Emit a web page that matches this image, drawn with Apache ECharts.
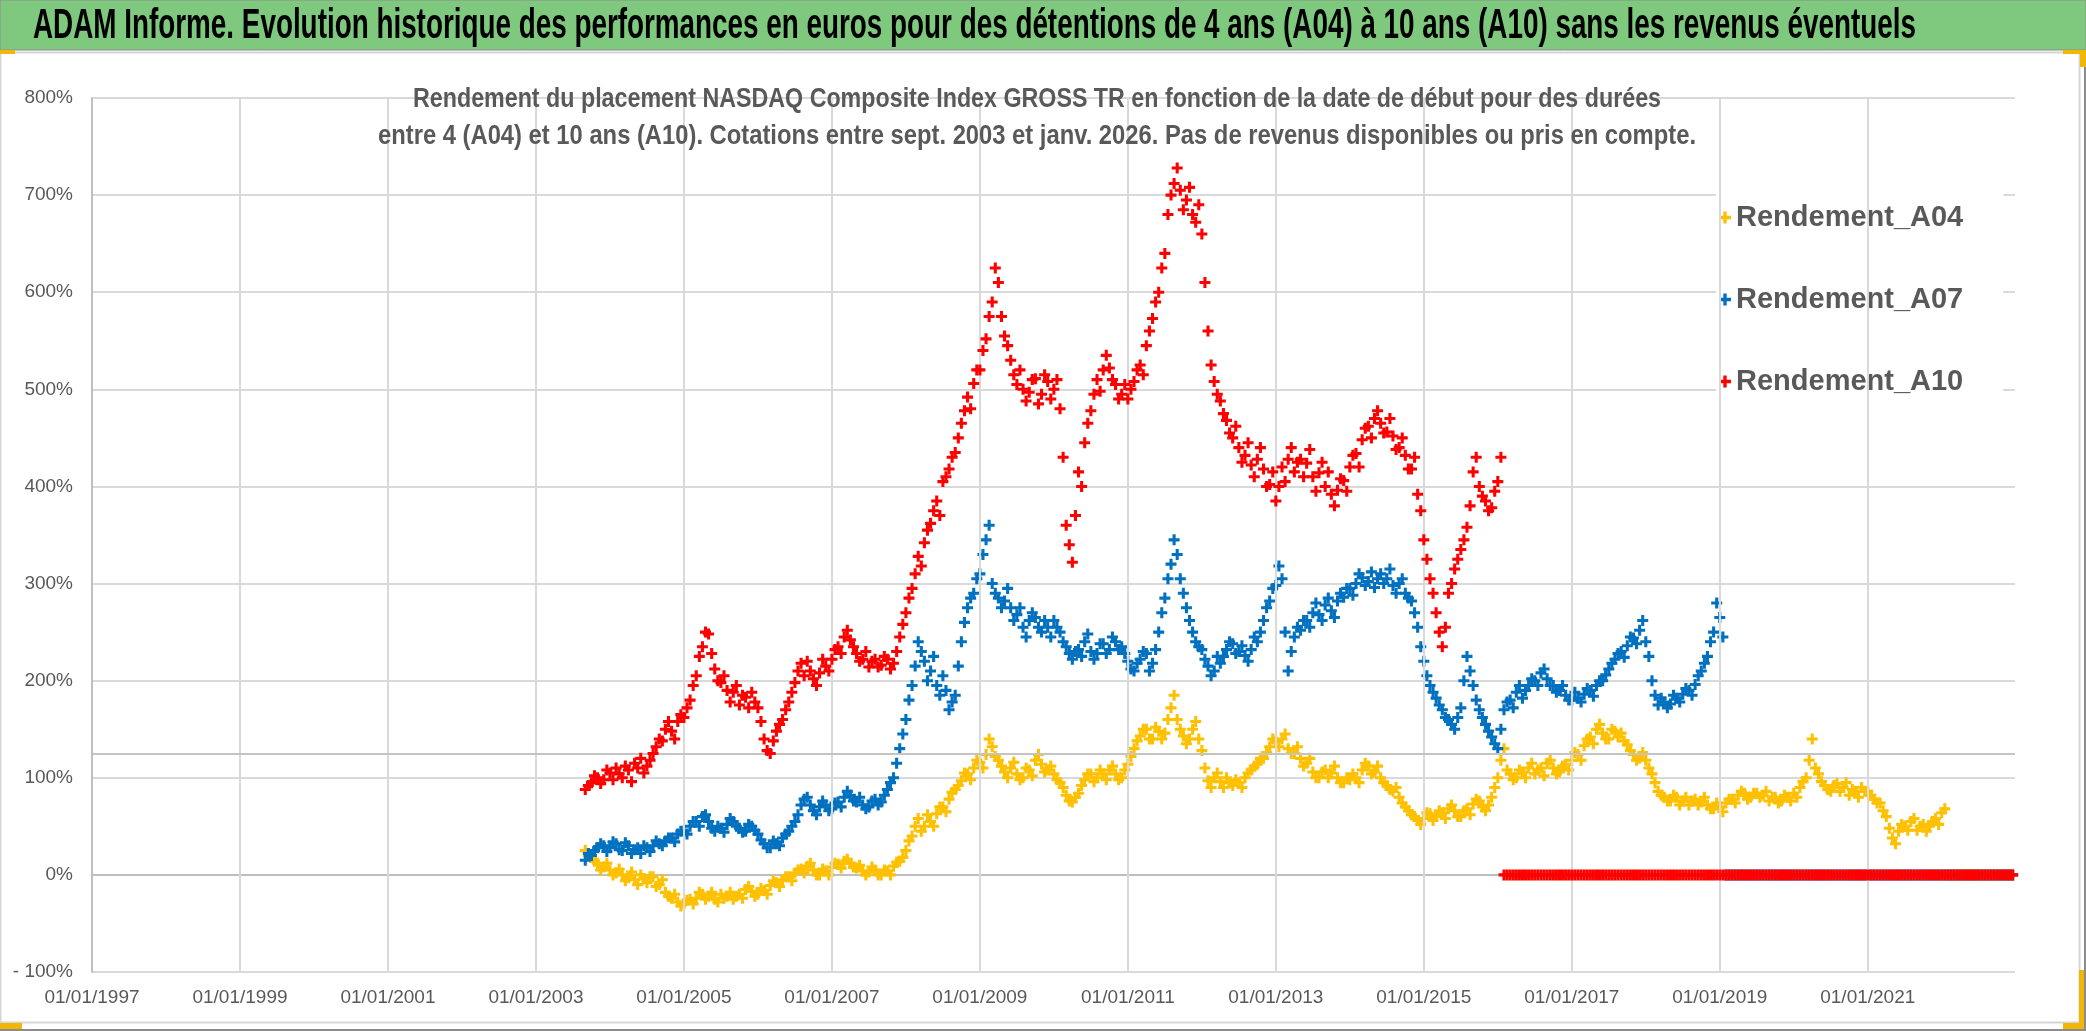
<!DOCTYPE html>
<html><head><meta charset="utf-8">
<script src="https://cdn.jsdelivr.net/npm/echarts@6/dist/echarts.min.js"></script>
<style>html,body{margin:0;padding:0;background:#fff}#c{width:2086px;height:1031px}</style>
</head><body><div id="c"></div>
<script>
const mainTitle = "ADAM Informe. Evolution historique des performances en euros pour des détentions de 4 ans (A04) à 10 ans (A10) sans les revenus éventuels";
const subTitle1 = "Rendement du placement NASDAQ Composite Index GROSS TR en fonction de la date de début pour des durées";
const subTitle2 = "entre 4 (A04) et 10 ans (A10). Cotations entre sept. 2003 et janv. 2026. Pas de revenus disponibles ou pris en compte.";
const seriesNames = ['Rendement_A04', 'Rendement_A07', 'Rendement_A10'];
const seriesColors = ['#FFC000', '#0070C0', '#FF0000'];
// start dates: first = sept. 2003, one reading at the start and one at mid-month
const firstYear = 2003, firstMonth = 9;
// x axis: 01/01/1997 origin, labels every 2 years
const axisOrigin = 1997;
const xTickYears = [1997, 1999, 2001, 2003, 2005, 2007, 2009, 2011, 2013, 2015, 2017, 2019, 2021];
const xMaxYears = 25.99;
const yMin = -100, yMax = 800, yStep = 100;
const refLine = 125;

// Rendement (%) at the 1st of each month, sept. 2003 -> dec. 2022
const rendementA04 = [
  25, 18, 12, 8,
  5, 2, 0, -3, -5, 0, -8, -2, -10, -18, -24, -28,
  -30, -25, -24, -20, -22, -25, -20, -22, -25, -20, -15, -17,
  -20, -16, -11, -8, -5, -2, 2, 6, 9, 5, 0, 4,
  8, 11, 14, 12, 7, 4, 3, 5, 0, 4, 9, 14,
  25, 40, 58, 50, 55, 63, 70, 78, 88, 97, 104, 110,
  116, 124, 132, 118, 106, 110, 104, 100, 108, 118, 114, 108,
  104, 95, 82, 75, 84, 98, 104, 100, 104, 108, 104, 100,
  114, 130, 143, 150, 140, 148, 146, 172, 160, 143, 140, 158,
  128, 97, 100, 96, 100, 92, 95, 100, 108, 114, 120, 132,
  138, 140, 130, 125, 120, 115, 106, 100, 108, 105, 100, 95,
  98, 100, 108, 112, 106, 100, 92, 86, 80, 70, 62, 56,
  58, 63, 60, 64, 68, 66, 60, 68, 73, 76, 66, 80,
  100, 130, 104, 100, 106, 110, 104, 110, 115, 110, 106, 114,
  118, 124, 133, 142, 150, 146, 140, 148, 146, 134, 124, 120,
  118, 104, 86, 80, 76, 80, 76, 72, 78, 75, 72, 68,
  70, 74, 78, 82, 84, 80, 84, 82, 76, 80, 76, 80,
  84, 90, 100, 140, 104, 92, 86, 94, 90, 82, 86, 90,
  86, 78, 74, 60, 38, 45, 50, 55, 46, 52, 50, 58,
  64, 0, 0, 0, 0, 0, 0, 0, 0, 0, 0, 0
];
// Rendement (%) at mid-month
const rendementA04Mid = [
  20, 14, 5, 12,
  0, 6, -6, 3, -10, -4, -2, -12, -5, -22, -20, -32,
  -26, -30, -18, -25, -18, -28, -24, -18, -22, -24, -12, -22,
  -14, -20, -6, -12, -2, -6, 5, 2, 12, 0, 6, 0,
  12, 7, 16, 8, 10, 0, 8, 0, 5, 0, 13, 18,
  35, 50, 45, 62, 50, 70, 65, 85, 92, 105, 98, 118,
  110, 140, 122, 112, 100, 116, 98, 110, 102, 124, 106, 112,
  98, 90, 76, 80, 92, 104, 96, 108, 98, 112, 98, 108,
  122, 138, 150, 140, 152, 140, 160, 185, 150, 135, 150, 140,
  110, 90, 105, 90, 95, 98, 90, 105, 112, 120, 126, 140,
  132, 145, 125, 132, 112, 120, 100, 106, 100, 112, 95, 100,
  104, 95, 115, 104, 112, 95, 88, 90, 74, 66, 60, 52,
  64, 56, 66, 58, 72, 60, 66, 62, 78, 70, 72, 90,
  118, 108, 98, 108, 100, 115, 108, 102, 118, 104, 112, 108,
  126, 118, 140, 135, 155, 140, 150, 142, 138, 128, 118, 126,
  110, 95, 82, 76, 82, 72, 80, 76, 72, 80, 68, 74,
  65, 78, 74, 86, 78, 84, 80, 86, 80, 74, 82, 76,
  80, 96, 118, 110, 96, 88, 92, 86, 95, 88, 80, 86,
  82, 74, 66, 48, 32, 52, 46, 58, 50, 45, 55, 52,
  68, 0, 0, 0, 0, 0, 0, 0, 0, 0, 0, 0
];
const rendementA07 = [
  15, 20, 28, 30,
  28, 32, 25, 30, 26, 22, 28, 30, 32, 35, 38, 42,
  45, 50, 55, 60, 55, 45, 48, 52, 55, 48, 45, 50,
  42, 32, 28, 32, 38, 45, 55, 72, 80, 66, 70, 72,
  68, 75, 80, 82, 75, 72, 70, 78, 75, 88, 100, 130,
  160, 195, 240, 220, 210, 195, 205, 170, 185, 240, 275, 290,
  310, 345, 300, 285, 282, 275, 268, 255, 262, 265, 250, 255,
  262, 250, 235, 222, 232, 240, 230, 228, 238, 232, 240, 235,
  220, 210, 222, 228, 218, 250, 285, 320, 330, 290, 262, 240,
  232, 215, 210, 218, 232, 238, 230, 226, 232, 240, 262, 282,
  298, 305, 210, 245, 252, 262, 270, 268, 278, 272, 282, 286,
  295, 300, 306, 302, 296, 310, 305, 298, 300, 290, 282, 255,
  220, 195, 182, 170, 160, 150, 172, 225, 195, 170, 155, 142,
  130, 170, 180, 188, 182, 195, 200, 208, 202, 195, 190, 185,
  180, 182, 186, 190, 195, 200, 212, 222, 230, 236, 244, 252,
  240, 200, 175, 178, 176, 182, 186, 190, 196, 210, 225, 250,
  265, 0, 0, 0, 0, 0, 0, 0, 0, 0, 0, 0,
  0, 0, 0, 0, 0, 0, 0, 0, 0, 0, 0, 0,
  0, 0, 0, 0, 0, 0, 0, 0, 0, 0, 0, 0,
  0, 0, 0, 0, 0, 0, 0, 0, 0, 0, 0, 0
];
const rendementA07Mid = [
  22, 25, 32, 24,
  34, 26, 33, 22, 28, 30, 24, 35, 30, 38, 34, 45,
  42, 55, 50, 62, 48, 50, 44, 58, 50, 44, 52, 46,
  36, 28, 35, 30, 42, 50, 62, 78, 72, 62, 76, 66,
  74, 70, 86, 76, 80, 68, 76, 72, 82, 95, 115, 145,
  180, 215, 230, 200, 225, 185, 190, 178, 215, 260, 285, 305,
  330, 360, 290, 275, 295, 262, 275, 245, 270, 255, 262, 245,
  255, 240, 228, 230, 225, 248, 222, 238, 228, 245, 232, 228,
  212, 218, 230, 210, 232, 270, 305, 345, 305, 275, 250, 235,
  222, 205, 225, 225, 240, 228, 236, 220, 245, 250, 275, 295,
  318, 250, 230, 255, 262, 255, 280, 262, 285, 265, 290, 295,
  288, 310, 298, 312, 305, 300, 315, 290, 305, 285, 270, 235,
  205, 188, 175, 162, 155, 162, 200, 210, 180, 162, 148, 135,
  150, 178, 172, 195, 190, 202, 195, 212, 195, 188, 195, 180,
  188, 178, 192, 184, 200, 206, 218, 228, 224, 245, 238, 262,
  225, 185, 182, 172, 185, 178, 192, 185, 205, 218, 240, 280,
  245, 0, 0, 0, 0, 0, 0, 0, 0, 0, 0, 0,
  0, 0, 0, 0, 0, 0, 0, 0, 0, 0, 0, 0,
  0, 0, 0, 0, 0, 0, 0, 0, 0, 0, 0, 0,
  0, 0, 0, 0, 0, 0, 0, 0, 0, 0, 0, 0
];
const rendementA10 = [
  88, 95, 100, 98,
  105, 110, 100, 108, 115, 120, 112, 125, 140, 150, 148, 158,
  162, 180, 205, 235, 248, 212, 198, 190, 188, 175, 183, 188,
  172, 140, 125, 148, 160, 178, 198, 218, 220, 202, 208, 215,
  222, 235, 245, 242, 228, 222, 214, 222, 216, 222, 218, 245,
  270, 295, 328, 342, 362, 385, 405, 418, 435, 465, 492, 506,
  520, 552, 590, 610, 555, 530, 505, 500, 497, 511, 495, 508,
  500, 480, 360, 322, 415, 445, 478, 510, 520, 522, 505, 495,
  490, 508, 525, 545, 573, 600, 640, 700, 728, 685, 708, 672,
  660, 560, 508, 488, 468, 450, 440, 432, 422, 428, 418, 402,
  385, 420, 428, 415, 428, 424, 410, 414, 400, 392, 396, 406,
  420, 434, 448, 462, 470, 465, 456, 452, 440, 432, 418, 392,
  345, 305, 270, 235, 290, 315, 335, 358, 415, 400, 385, 378,
  405, 0, 0, 0, 0, 0, 0, 0, 0, 0, 0, 0,
  0, 0, 0, 0, 0, 0, 0, 0, 0, 0, 0, 0,
  0, 0, 0, 0, 0, 0, 0, 0, 0, 0, 0, 0,
  0, 0, 0, 0, 0, 0, 0, 0, 0, 0, 0, 0,
  0, 0, 0, 0, 0, 0, 0, 0, 0, 0, 0, 0,
  0, 0, 0, 0, 0, 0, 0, 0, 0, 0, 0, 0,
  0, 0, 0, 0, 0, 0, 0, 0, 0, 0, 0, 0
];
const rendementA10Mid = [
  92, 102, 94, 108,
  98, 104, 112, 96, 110, 105, 118, 132, 138, 158, 140, 165,
  172, 195, 225, 250, 228, 200, 205, 178, 195, 185, 172, 178,
  158, 128, 138, 155, 170, 188, 210, 205, 210, 195, 222, 210,
  232, 228, 252, 235, 220, 230, 220, 214, 225, 212, 230, 258,
  285, 310, 318, 355, 375, 370, 410, 430, 450, 478, 480, 520,
  540, 575, 625, 575, 545, 515, 520, 488, 510, 485, 515, 490,
  510, 430, 340, 370, 400, 465, 495, 498, 535, 510, 490, 505,
  500, 520, 515, 560, 590, 625, 680, 712, 705, 695, 680, 690,
  610, 525, 495, 475, 455, 462, 425, 445, 410, 440, 400, 415,
  400, 405, 440, 425, 410, 438, 395, 425, 415, 380, 408, 395,
  432, 420, 460, 450, 478, 455, 470, 438, 450, 418, 430, 375,
  325, 290, 250, 255, 300, 325, 345, 380, 430, 390, 375, 395,
  430, 0, 0, 0, 0, 0, 0, 0, 0, 0, 0, 0,
  0, 0, 0, 0, 0, 0, 0, 0, 0, 0, 0, 0,
  0, 0, 0, 0, 0, 0, 0, 0, 0, 0, 0, 0,
  0, 0, 0, 0, 0, 0, 0, 0, 0, 0, 0, 0,
  0, 0, 0, 0, 0, 0, 0, 0, 0, 0, 0, 0,
  0, 0, 0, 0, 0, 0, 0, 0, 0, 0, 0, 0,
  0, 0, 0, 0, 0, 0, 0, 0, 0, 0, 0, 0
];
const seriesValues = [rendementA04, rendementA07, rendementA10];
const seriesMidValues = [rendementA04Mid, rendementA07Mid, rendementA10Mid];

function toPoints(vals, dayOffset) {
  return vals.map((v, i) => [firstYear + (firstMonth - 1 + i + dayOffset) / 12 - axisOrigin, v]);
}
const plusPath = 'path://M3.6,0H6.4V3.6H10V6.4H6.4V10H3.6V6.4H0V3.6H3.6Z';
const FONT = '"Liberation Sans", Arial, sans-serif';

function fitScale(text, font, target) {
  const ctx = document.createElement('canvas').getContext('2d');
  ctx.font = font;
  return target / ctx.measureText(text).width;
}
const titleFont = 'bold 42px ' + FONT;
const subFont = 'bold 27px ' + FONT;
const sTitle = fitScale(mainTitle, titleFont, 1883);
const sSub1 = fitScale(subTitle1, subFont, 1248);
const sSub2 = fitScale(subTitle2, subFont, 1318);

const chart = echarts.init(document.getElementById('c'), null, {renderer: 'canvas'});
const handle = '#F2B705';
const gridColor = '#D9D9D9';

const dataSeries = seriesNames.map((name, k) => ({
  name, type: 'scatter', symbol: plusPath, symbolSize: 11,
  itemStyle: {color: seriesColors[k], opacity: 1},
  data: toPoints(seriesValues[k], 0).concat(toPoints(seriesMidValues[k], 0.5)),
  z: 3 + k
}));
// vertical gridlines + reference line, drawn beneath the points
const gridSeries = {
  name: 'grid', type: 'scatter', data: [], silent: true, z: 1,
  markLine: {
    silent: true, symbol: 'none', label: {show: false}, animation: false,
    data: xTickYears.slice(1).map(y => ({xAxis: y - axisOrigin, lineStyle: {color: gridColor, width: 2, type: 'solid'}}))
      .concat([{yAxis: refLine, lineStyle: {color: '#C4C4C4', width: 2, type: 'solid'}}])
  }
};

chart.setOption({
  animation: false,
  backgroundColor: '#fff',
  grid: {left: 92, right: 71, top: 98, bottom: 59, containLabel: false},
  xAxis: {
    type: 'value', min: 0, max: xMaxYears, interval: 2,
    axisLine: {show: true, lineStyle: {color: '#BFBFBF', width: 2}},
    axisTick: {show: false},
    splitLine: {show: false},
    axisLabel: {
      margin: 16, color: '#595959', fontSize: 19, fontFamily: FONT, showMaxLabel: false,
      formatter: v => (Math.abs(v - Math.round(v)) < 1e-6 && xTickYears.indexOf(axisOrigin + Math.round(v)) >= 0) ? '01/01/' + (axisOrigin + Math.round(v)) : ''
    }
  },
  yAxis: {
    type: 'value', min: yMin, max: yMax, interval: yStep,
    axisLine: {show: true, lineStyle: {color: '#BFBFBF', width: 2}},
    axisTick: {show: false},
    splitLine: {show: true, lineStyle: {color: gridColor, width: 2}},
    axisLabel: {
      margin: 19, color: '#595959', fontSize: 19, fontFamily: FONT,
      formatter: v => v < 0 ? '- ' + Math.abs(v) + '%' : v + '%'
    }
  },
  legend: {
    orient: 'vertical', left: 1716, top: 186,
    padding: [17, 40, 27, 3], backgroundColor: '#fff',
    itemWidth: 12, itemHeight: 12, itemGap: 53,
    textStyle: {fontSize: 29, fontWeight: 'bold', color: '#595959', fontFamily: FONT},
    data: seriesNames.map(n => ({name: n, icon: plusPath}))
  },
  series: [gridSeries].concat(dataSeries),
  graphic: [
    {type: 'rect', silent: true, z: 0, shape: {x: 0.5, y: 52.5, width: 2079, height: 970}, style: {fill: 'none', stroke: '#D6D6D6', lineWidth: 2}},
    {type: 'rect', silent: true, z: 0, shape: {x: 2084, y: 52, width: 2, height: 979}, style: {fill: '#8C8C8C'}},
    {type: 'rect', silent: true, z: 0, shape: {x: 0, y: 1029, width: 2086, height: 2}, style: {fill: '#8C8C8C'}},
    {type: 'rect', silent: true, z: 10, shape: {x: 0, y: 0, width: 2086, height: 50}, style: {fill: '#7EC97E', stroke: '#8C8C8C', lineWidth: 1}},
    {type: 'text', silent: true, z: 11, x: 33, y: 26, scaleX: sTitle,
      style: {text: mainTitle, font: titleFont, fill: '#000', align: 'left', textAlign: 'left', verticalAlign: 'middle', textVerticalAlign: 'middle'}},
    {type: 'text', silent: true, z: 11, x: 1037, y: 100, scaleX: sSub1,
      style: {text: subTitle1, font: subFont, fill: '#595959', align: 'center', textAlign: 'center', verticalAlign: 'middle', textVerticalAlign: 'middle'}},
    {type: 'text', silent: true, z: 11, x: 1037, y: 137, scaleX: sSub2,
      style: {text: subTitle2, font: subFont, fill: '#595959', align: 'center', textAlign: 'center', verticalAlign: 'middle', textVerticalAlign: 'middle'}},
    {type: 'rect', silent: true, z: 12, shape: {x: 0, y: 50, width: 15, height: 4}, style: {fill: handle}},
    {type: 'rect', silent: true, z: 12, shape: {x: 2063, y: 50, width: 23, height: 4}, style: {fill: handle}},
    {type: 'rect', silent: true, z: 12, shape: {x: 2080, y: 50, width: 6, height: 17}, style: {fill: handle}},
    {type: 'rect', silent: true, z: 12, shape: {x: 2063, y: 1023, width: 21, height: 6}, style: {fill: handle}},
    {type: 'rect', silent: true, z: 12, shape: {x: 2079, y: 970, width: 5, height: 59}, style: {fill: handle}},
    {type: 'rect', silent: true, z: 12, shape: {x: 0, y: 1023, width: 22, height: 6}, style: {fill: handle}}
  ]
});
</script>
</body></html>
